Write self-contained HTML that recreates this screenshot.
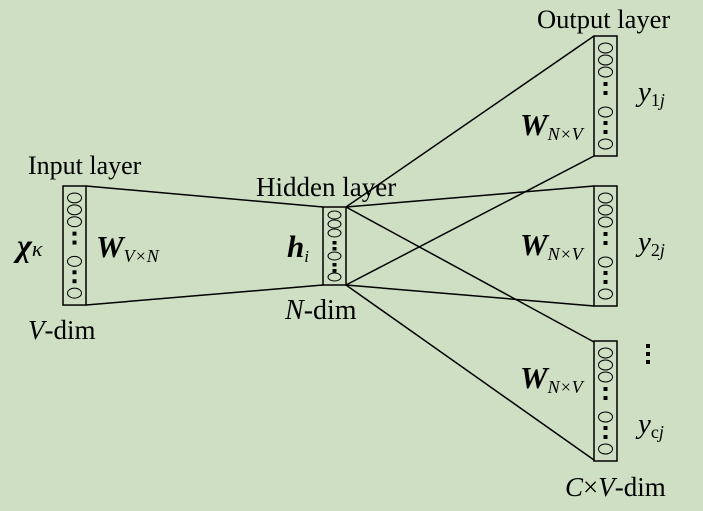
<!DOCTYPE html>
<html><head><style>
html,body{margin:0;padding:0;background:#cfdfc3;}
svg{display:block;}
text{font-family:"Liberation Serif",serif;fill:#000;}
</style></head><body>
<svg width="703" height="511" viewBox="0 0 703 511" xmlns="http://www.w3.org/2000/svg">
<rect width="703" height="511" fill="#cfdfc3"/>
<defs>
<g id="col">
<rect x="0" y="0" width="23" height="120" fill="none" stroke="#000" stroke-width="1.5"/>
<g fill="none" stroke="#000" stroke-width="1">
<ellipse cx="11.5" cy="12" rx="7" ry="5"/>
<ellipse cx="11.5" cy="24" rx="7" ry="5"/>
<ellipse cx="11.5" cy="36" rx="7" ry="5"/>
<ellipse cx="11.5" cy="76" rx="7" ry="5"/>
<ellipse cx="11.5" cy="108" rx="7" ry="5"/>
</g>
<g fill="#000">
<rect x="9.5" y="46" width="4" height="4"/><rect x="9.5" y="55" width="4" height="4"/>
<rect x="9.5" y="85" width="4" height="4"/><rect x="9.5" y="94" width="4" height="4"/>
</g>
</g>
</defs>
<g stroke="#000" stroke-width="1.5">
<line x1="86" y1="186" x2="323" y2="207"/>
<line x1="86" y1="305" x2="323" y2="285"/>
<line x1="346" y1="207" x2="594" y2="36"/>
<line x1="346" y1="207" x2="594" y2="186"/>
<line x1="346" y1="207" x2="594" y2="342"/>
<line x1="346" y1="285" x2="594" y2="156"/>
<line x1="346" y1="285" x2="594" y2="306"/>
<line x1="346" y1="285" x2="594" y2="460"/>
</g>
<use href="#col" transform="translate(63,186) scale(1,0.992)"/>
<g transform="translate(323,207)">
<rect x="0" y="0" width="23" height="78" fill="none" stroke="#000" stroke-width="1.5"/>
<g fill="none" stroke="#000" stroke-width="1">
<ellipse cx="11.5" cy="8" rx="6.5" ry="4"/>
<ellipse cx="11.5" cy="17" rx="6.5" ry="4"/>
<ellipse cx="11.5" cy="26" rx="6.5" ry="4"/>
<ellipse cx="11.5" cy="49" rx="6.5" ry="4"/>
<ellipse cx="11.5" cy="70" rx="6.5" ry="4"/>
</g>
<g fill="#000">
<rect x="9.5" y="34" width="4" height="3.5"/><rect x="9.5" y="40" width="4" height="3.5"/>
<rect x="9.5" y="56" width="4" height="3.5"/><rect x="9.5" y="62" width="4" height="3.5"/>
</g>
</g>
<use href="#col" transform="translate(594,36)"/>
<use href="#col" transform="translate(594,186)"/>
<use href="#col" transform="translate(594,341)"/>
<text x="28" y="174" font-size="26">Input layer</text>
<text x="256" y="196" font-size="27">Hidden layer</text>
<text x="537" y="28" font-size="26.5">Output layer</text>
<text x="17" y="256" font-size="32" font-style="italic" font-weight="bold">χ<tspan font-size="22" font-weight="normal">κ</tspan></text>
<text x="96" y="257" font-size="31" font-style="italic" font-weight="bold">W<tspan font-size="18" font-weight="normal" dy="5">V×N</tspan></text>
<text x="287" y="257" font-size="31" font-style="italic" font-weight="bold">h<tspan font-size="17" font-weight="normal" dy="5">i</tspan></text>
<text x="28" y="339" font-size="27"><tspan font-style="italic">V</tspan>-dim</text>
<text x="285" y="319" font-size="28"><tspan font-style="italic">N</tspan>-dim</text>
<text x="520" y="135" font-size="31" font-style="italic" font-weight="bold">W<tspan font-size="18" font-weight="normal" dy="5">N×V</tspan></text>
<text x="520" y="255" font-size="31" font-style="italic" font-weight="bold">W<tspan font-size="18" font-weight="normal" dy="5">N×V</tspan></text>
<text x="520" y="388" font-size="31" font-style="italic" font-weight="bold">W<tspan font-size="18" font-weight="normal" dy="5">N×V</tspan></text>
<text x="638" y="101" font-size="29" font-style="italic">y<tspan font-size="18" font-style="normal" dy="5">1<tspan font-style="italic">j</tspan></tspan></text>
<text x="638" y="251" font-size="29" font-style="italic">y<tspan font-size="18" font-style="normal" dy="5">2<tspan font-style="italic">j</tspan></tspan></text>
<text x="638" y="433" font-size="29" font-style="italic">y<tspan font-size="18" font-style="normal" dy="5">c<tspan font-style="italic">j</tspan></tspan></text>
<g fill="#000"><rect x="646" y="344" width="4" height="4"/><rect x="646" y="352" width="4" height="4"/><rect x="646" y="360" width="4" height="4"/></g>
<text x="565" y="496" font-size="27"><tspan font-style="italic">C</tspan>×<tspan font-style="italic">V</tspan>-dim</text>
</svg>
</body></html>
